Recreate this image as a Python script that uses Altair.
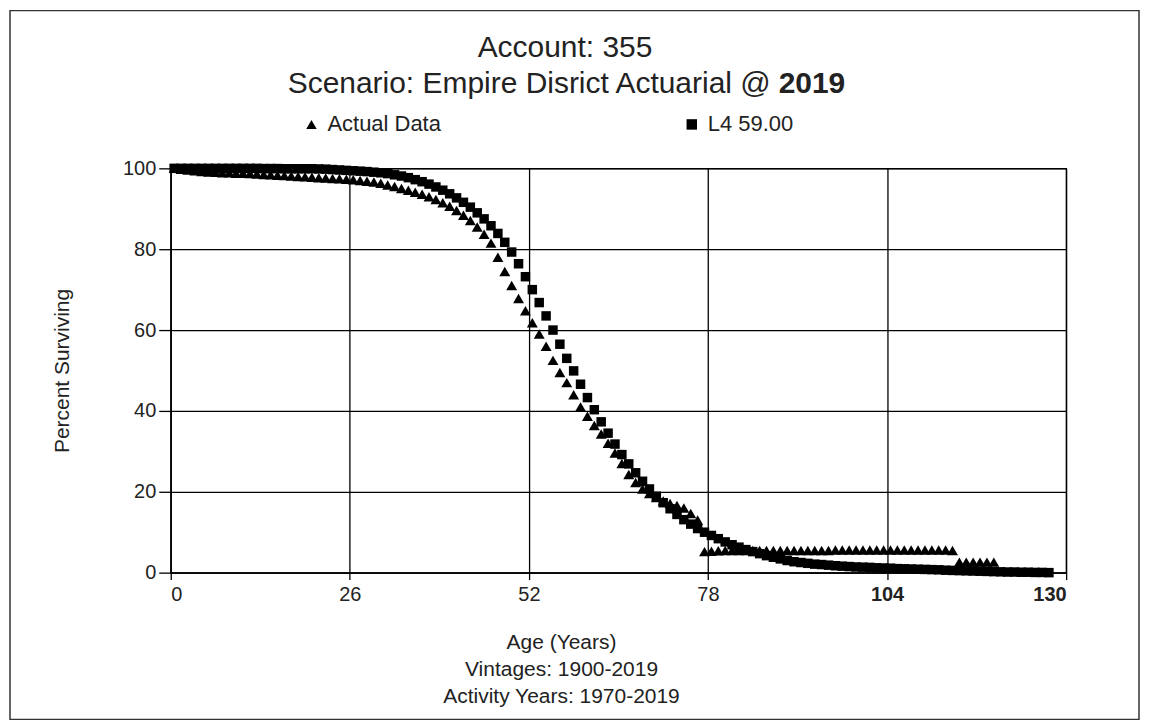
import altair as alt
import pandas as pd

FONT = "Liberation Sans"

TITLE_LINE1 = "Account: 355"
TITLE_LINE2 = "Scenario: Empire Disrict Actuarial @"
TITLE_YEAR = "2019"
X_TITLE = ["Age (Years)", "Vintages: 1900-2019", "Activity Years: 1970-2019"]
Y_TITLE = "Percent Surviving"
SERIES = ["Actual Data", "L4 59.00"]
X_TICKS = [0, 26, 52, 78, 104, 130]
Y_TICKS = [0, 20, 40, 60, 80, 100]

actual_age = [a + 0.5 for a in range(120)]
actual_pct = [
    100.0, 99.8, 99.6, 99.4, 99.2, 99.1, 99.0, 98.9, 98.9, 98.8,
    98.8, 98.7, 98.6, 98.5, 98.4, 98.3, 98.2, 98.1, 98.0, 97.9,
    97.8, 97.7, 97.6, 97.5, 97.4, 97.3, 97.2, 97.0, 96.8, 96.6,
    96.3, 95.9, 95.5, 95.0, 94.6, 94.1, 93.6, 93.0, 92.3, 91.5,
    90.6, 89.6, 88.4, 87.1, 85.5, 83.7, 81.5, 78.0, 74.5, 71.0,
    67.8, 64.8, 61.8, 59.0, 56.0, 52.5, 49.5, 47.0, 44.0, 41.0,
    38.7, 36.4, 34.3, 32.0, 29.6, 27.0, 24.3, 22.3, 20.7, 19.6,
    18.6, 17.7, 17.1, 16.6, 16.0, 14.6, 13.0, 5.2, 5.3, 5.4,
    5.5, 5.5, 5.5, 5.5, 5.5, 5.5, 5.5, 5.5, 5.5, 5.5,
    5.5, 5.5, 5.5, 5.5, 5.5, 5.5, 5.6, 5.6, 5.6, 5.6,
    5.6, 5.6, 5.6, 5.6, 5.6, 5.6, 5.6, 5.6, 5.6, 5.6,
    5.6, 5.6, 5.6, 5.5,
    2.6, 2.6, 2.6, 2.6, 2.6, 2.6,
]

l4_age = [a + 0.5 for a in range(128)]
l4_pct = [
    100.0, 100.0, 100.0, 100.0, 100.0, 100.0, 100.0, 100.0, 100.0, 100.0,
    100.0, 100.0, 100.0, 99.95, 99.95, 99.95, 99.9, 99.9, 99.9, 99.9,
    99.9, 99.85, 99.8, 99.7, 99.6, 99.5, 99.4, 99.3, 99.2, 99.05,
    98.9, 98.7, 98.4, 98.1, 97.7, 97.2, 96.7, 96.1, 95.4, 94.6,
    93.7, 92.7, 91.6, 90.4, 89.0, 87.5, 85.8, 83.9, 81.7, 79.3,
    76.4, 73.2, 70.0, 66.8, 63.5, 60.0, 56.5, 53.0, 49.9, 46.6,
    43.3, 40.3, 37.3, 34.5, 31.8, 29.2, 26.9, 24.7, 22.6, 20.7,
    18.9, 17.3, 15.8, 14.4, 13.1, 12.0, 10.9, 10.0, 9.2, 8.4,
    7.6, 6.9, 6.3, 5.7, 5.2, 4.7, 4.2, 3.8, 3.4, 3.0,
    2.7, 2.5, 2.3, 2.1, 2.0, 1.85, 1.7, 1.6, 1.5, 1.4,
    1.35, 1.3, 1.2, 1.15, 1.1, 1.0, 0.95, 0.9, 0.85, 0.8,
    0.75, 0.7, 0.6, 0.55, 0.5, 0.45, 0.4, 0.35, 0.3, 0.25,
    0.2, 0.15, 0.15, 0.1, 0.1, 0.05, 0.05, 0.0,
]

df = pd.concat([
    pd.DataFrame({"age": l4_age, "pct": l4_pct, "series": SERIES[1]}),
    pd.DataFrame({"age": actual_age, "pct": actual_pct, "series": SERIES[0]}),
], ignore_index=True)

W, H = 897, 405

x_enc = alt.X("age:Q",
              scale=alt.Scale(domain=[0, 130], nice=False, zero=False),
              axis=alt.Axis(values=X_TICKS, format="d", title=X_TITLE,
                            tickSize=7, labelPadding=5,
                            titleLineHeight=27, titlePadding=27, titleX=391,
                            labelFontWeight={"condition": {"test": "datum.value >= 104", "value": "bold"},
                                             "value": "normal"}))
y_enc = alt.Y("pct:Q",
              scale=alt.Scale(domain=[0, 100], nice=False, zero=False),
              axis=alt.Axis(values=Y_TICKS, format="d", title=Y_TITLE,
                            tickSize=12, labelPadding=3, titlePadding=50))
shape_enc = alt.Shape("series:N",
                      scale=alt.Scale(domain=SERIES, range=["triangle-up", "square"]),
                      legend=alt.Legend(orient="none", legendX=130, legendY=-55,
                                        direction="horizontal", title=None,
                                        labelFontSize=22, labelFont=FONT, labelColor="#222",
                                        symbolSize=110, symbolFillColor="black",
                                        symbolStrokeColor="black", symbolStrokeWidth=0,
                                        columnPadding=240, labelOffset=5))

base = alt.Chart(df).encode(x=x_enc, y=y_enc, shape=shape_enc)

l4_pts = base.transform_filter(alt.datum.series == SERIES[1]).mark_point(
    filled=True, size=90, opacity=1, color="black", strokeWidth=0)
actual_pts = base.transform_filter(alt.datum.series == SERIES[0]).mark_point(
    filled=True, size=120, opacity=1, color="black", strokeWidth=0)

frame = alt.Chart(pd.DataFrame({"k": [0]})).mark_rect(
    fillOpacity=0, stroke="#333", strokeWidth=1.5
).encode(x=alt.value(-161), x2=alt.value(970), y=alt.value(-158), y2=alt.value(552))

t1 = alt.Chart(pd.DataFrame({"t": [TITLE_LINE1]})).mark_text(
    font=FONT, fontSize=30, color="#222", align="center", baseline="middle"
).encode(x=alt.value(395), y=alt.value(-121), text="t:N")

t2 = alt.Chart(pd.DataFrame({"t": [TITLE_LINE2]})).mark_text(
    font=FONT, fontSize=30, color="#222", align="right", baseline="middle"
).encode(x=alt.value(601), y=alt.value(-84), text="t:N")

t3 = alt.Chart(pd.DataFrame({"t": [TITLE_YEAR]})).mark_text(
    font=FONT, fontSize=30, fontWeight="bold", color="#222", align="left", baseline="middle"
).encode(x=alt.value(609), y=alt.value(-84), text="t:N")

chart = alt.layer(frame, l4_pts, actual_pts, t1, t2, t3).properties(
    width=W, height=H, padding=1, background="white"
).configure_view(
    stroke="black", strokeWidth=1.3
).configure_axis(
    domainColor="black", domainWidth=1.3, gridColor="black", gridOpacity=1, gridWidth=1.3,
    tickColor="black", tickWidth=1.3,
    labelFont=FONT, labelFontSize=20, labelColor="#222",
    titleFont=FONT, titleFontSize=21, titleColor="#222", titleFontWeight="normal",
)

chart.save("out.html", embed_options={"renderer": "svg", "actions": False})
